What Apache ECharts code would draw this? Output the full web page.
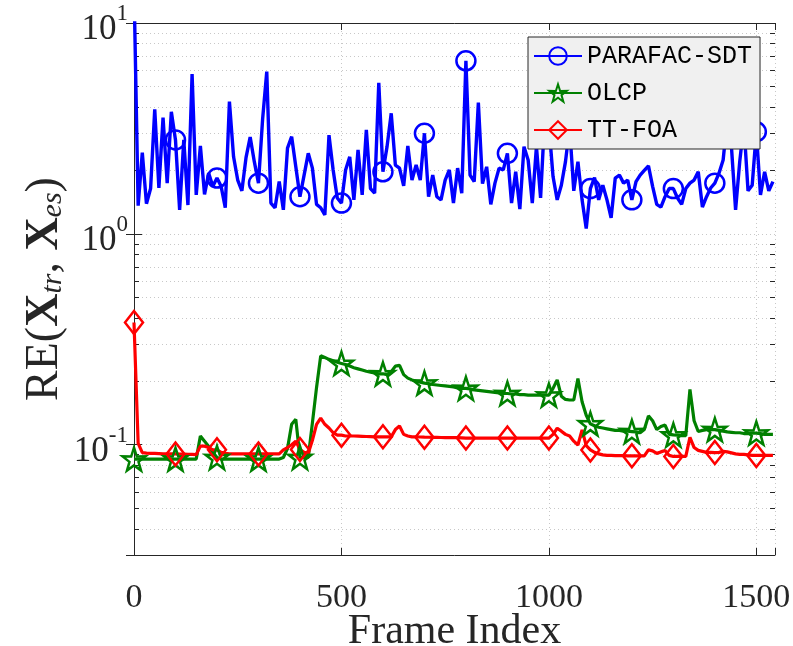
<!DOCTYPE html>
<html><head><meta charset="utf-8">
<script src="https://cdn.jsdelivr.net/npm/echarts@6/dist/echarts.min.js"></script>
<style>html,body{margin:0;padding:0;background:#fff}#c{width:793px;height:646px}</style>
</head><body><div id="c"></div>
<script>
// Frame index of each sample (one sample every 10 frames)
const frames = Array.from({length: 155}, (_, i) => i * 10);

const parafacSDT = [
15,1.36,2.43,1.39,1.64,3.9,1.65,3.56,1.74,3.79,
2.79,1.30,2.79,1.37,5.73,1.53,2.61,1.54,1.94,1.68,
1.84,1.68,1.33,4.24,2.32,1.80,1.60,2.3,2.88,2.2,
1.74,3.5,5.88,1.40,1.33,1.77,1.30,2.55,2.89,2.08,
1.50,1.9,2.41,2.05,1.38,1.33,1.23,2.94,2.01,1.48,
1.40,2.01,2.32,1.45,2.5,1.53,3.11,1.64,1.56,5.21,
1.97,2.6,3.73,2.12,2.05,1.69,2.61,1.80,2.12,1.80,
3.0,1.50,1.90,1.50,1.45,1.80,2.01,1.40,2.05,1.56,
6.62,1.90,1.77,4.19,1.73,2.08,1.38,1.74,2.05,2.01,
2.41,1.40,1.97,1.31,2.59,2.24,1.40,2.59,1.48,3.6,
3.3,1.87,1.45,1.7,2.2,3.2,1.6,2.2,1.45,1.06,
1.64,1.85,1.45,1.7,1.45,1.19,1.84,1.90,1.74,1.80,
1.45,1.77,1.90,2.0,2.1,1.68,1.38,1.34,1.50,1.64,
1.64,1.48,1.38,1.64,1.74,1.8,1.97,1.34,1.5,1.65,
1.74,1.94,2.24,3.5,2.59,1.30,2.2,3.3,1.6,1.7,
3.05,1.53,1.97,1.6,1.77];

const olcp = [
0.0855,0.0855,0.0855,0.0855,0.0855,0.0855,0.0855,0.0855,0.0855,0.0855,
0.0855,0.0855,0.0855,0.0855,0.0855,0.0855,0.110,0.104,0.098,0.092,
0.087,0.0855,0.0855,0.0855,0.0855,0.0855,0.0855,0.0855,0.0855,0.0855,
0.0855,0.0855,0.0855,0.0855,0.0855,0.0855,0.087,0.096,0.125,0.132,
0.087,0.087,0.087,0.127,0.187,0.264,0.259,0.254,0.250,0.246,
0.243,0.240,0.236,0.232,0.229,0.226,0.223,0.221,0.219,0.217,
0.217,0.215,0.222,0.236,0.238,0.215,0.207,0.203,0.200,0.198,
0.196,0.195,0.193,0.192,0.191,0.190,0.189,0.188,0.186,0.185,
0.185,0.184,0.182,0.181,0.180,0.179,0.178,0.177,0.176,0.175,
0.175,0.174,0.174,0.173,0.173,0.172,0.172,0.172,0.172,0.172,
0.172,0.185,0.203,0.170,0.164,0.163,0.163,0.206,0.160,0.138,
0.1256,0.123,0.121,0.120,0.119,0.118,0.117,0.117,0.116,0.116,
0.1155,0.115,0.114,0.118,0.137,0.130,0.118,0.122,0.124,0.112,
0.1113,0.111,0.1105,0.1105,0.183,0.130,0.1155,0.117,0.118,0.118,
0.118,0.117,0.116,0.115,0.1145,0.114,0.114,0.113,0.113,0.1135,
0.1135,0.113,0.112,0.112,0.112];

const ttFOA = [
0.38,0.1016,0.0918,0.0912,0.091,0.091,0.0908,0.0906,0.0905,0.0905,
0.0905,0.0903,0.0902,0.0900,0.0900,0.0898,0.0985,0.0985,0.097,0.0946,
0.0946,0.092,0.091,0.0905,0.0905,0.0905,0.0905,0.0905,0.0905,0.0905,
0.0905,0.0905,0.0905,0.0905,0.0905,0.0905,0.0946,0.097,0.100,0.104,
0.095,0.092,0.091,0.105,0.125,0.1337,0.125,0.120,0.114,0.111,
0.111,0.110,0.110,0.110,0.1098,0.1096,0.1094,0.1092,0.109,0.109,
0.109,0.109,0.109,0.118,0.1227,0.112,0.110,0.109,0.109,0.1088,
0.1086,0.1085,0.1084,0.1083,0.1082,0.1081,0.108,0.108,0.108,0.1078,
0.1076,0.1075,0.1075,0.1075,0.1075,0.1075,0.1075,0.1075,0.1075,0.1075,
0.1075,0.1075,0.1075,0.1075,0.1075,0.1075,0.1075,0.1075,0.1075,0.1075,
0.1075,0.112,0.1197,0.116,0.112,0.110,0.104,0.0997,0.1177,0.099,
0.0945,0.092,0.0905,0.0895,0.089,0.089,0.0888,0.0888,0.0887,0.0886,
0.0886,0.0886,0.0886,0.0886,0.0945,0.0935,0.091,0.0925,0.094,0.089,
0.088,0.088,0.088,0.088,0.1085,0.097,0.094,0.093,0.092,0.092,
0.0918,0.092,0.093,0.0925,0.0915,0.0905,0.090,0.090,0.0895,0.089,
0.089,0.089,0.089,0.089,0.089];

const seriesNames = ['PARAFAC-SDT', 'OLCP', 'TT-FOA'];
const xTickLabels = [0, 500, 1000, 1500];
const minorYTicks = [0.04,0.05,0.06,0.07,0.08,0.09,0.2,0.3,0.4,0.5,0.6,0.7,0.8,0.9,2,3,4,5,6,7,8,9];

const X_MIN = 0, X_MAX = 1545, Y_MIN = 0.03, Y_MAX = 10;
const serif = 'Liberation Serif';
const axisCol = '#262626';
const gridCol = '#c8c8c8';
const starPath = 'path://M50,0 L61.8,35.1 L98.1,34.5 L69,56.2 L79.4,90.5 L50,70 L20.6,90.5 L31,56.2 L1.9,34.5 L38.2,35.1 Z';

function build(vals) {
  return vals.map((v, i) => i % 10 === 0 ? [frames[i], v] : {value: [frames[i], v], symbol: 'none'});
}
function lineSeries(name, vals, color, symbol, size, lw) {
  return {
    name, type: 'line', data: build(vals), showAllSymbol: true,
    symbol, symbolSize: size, clip: true,
    lineStyle: {color, width: lw},
    itemStyle: {color: 'rgba(0,0,0,0)', borderColor: color, borderWidth: 2.5},
    emphasis: {disabled: true}, z: 3
  };
}
const supLabel = v => {
  const e = Math.log10(v);
  if (Math.abs(e - Math.round(e)) > 1e-6) return '';
  return '{b|10}{s|' + Math.round(e) + '}';
};
const yRich = {
  b: {fontFamily: serif, fontSize: 35, color: '#262626', padding: [14, 0, 0, 0]},
  s: {fontFamily: serif, fontSize: 23, color: '#262626', padding: [0, 0, 18, 0]}
};

const chart = echarts.init(document.getElementById('c'), null, {renderer: 'canvas'});
chart.setOption({
  animation: false,
  backgroundColor: '#ffffff',
  grid: {left: 134, top: 23, right: 18, bottom: 91, containLabel: false, outerBoundsMode: 'none', show: false},
  legend: {
    data: seriesNames, orient: 'vertical', left: 528, top: 37, z: 20, zlevel: 0,
    backgroundColor: '#f0f0f0', borderColor: axisCol, borderWidth: 1,
    padding: [6, 8, 6, 5], itemGap: 11, itemWidth: 48, itemHeight: 22,
    textStyle: {fontFamily: 'Liberation Mono', fontSize: 25, color: '#000', lineHeight: 26},
    selectedMode: false
  },
  xAxis: [{
    type: 'value', min: X_MIN, max: X_MAX, interval: 500,
    name: 'Frame Index', nameLocation: 'middle', nameGap: 56, nameMoveOverlap: false,
    nameTextStyle: {fontFamily: serif, fontSize: 42, color: '#262626'},
    axisLine: {show: true, lineStyle: {color: axisCol, width: 1}},
    axisTick: {show: true, inside: true, length: 7, lineStyle: {color: axisCol}},
    axisLabel: {fontFamily: serif, fontSize: 34, color: '#262626', margin: 26,
      formatter: v => xTickLabels.indexOf(v) >= 0 ? String(v) : ''},
    splitLine: {show: true, lineStyle: {color: gridCol, type: [1, 3], width: 1}}
  }, {
    type: 'value', position: 'top', min: X_MIN, max: X_MAX, interval: 500,
    axisLine: {show: true, lineStyle: {color: axisCol, width: 1}},
    axisTick: {show: true, inside: true, length: 7, lineStyle: {color: axisCol}},
    axisLabel: {show: false}, splitLine: {show: false}
  }],
  yAxis: [{
    type: 'log', logBase: 10, min: Y_MIN, max: Y_MAX,
    name: '{n|RE(}{b|X}{s|tr}{n|, }{b|X}{s|es}{n|)}',
    nameLocation: 'middle', nameGap: 66, nameRotate: 90, nameMoveOverlap: false,
    nameTextStyle: {rich: {
      n: {fontFamily: serif, fontSize: 46, color: '#262626'},
      b: {fontFamily: serif, fontSize: 46, fontWeight: 'bold', color: '#262626'},
      s: {fontFamily: serif, fontSize: 30, fontStyle: 'italic', color: '#262626', padding: [16, 0, 0, 0]}
    }},
    axisLine: {show: true, lineStyle: {color: axisCol, width: 1}},
    axisTick: {show: true, inside: true, length: 8, lineStyle: {color: axisCol}},
    axisLabel: {formatter: supLabel, rich: yRich, margin: 6, showMinLabel: false},
    splitLine: {show: true, lineStyle: {color: gridCol, type: [1, 3], width: 1}}
  }, {
    type: 'log', logBase: 10, min: Y_MIN, max: Y_MAX, position: 'right',
    axisLine: {show: true, lineStyle: {color: axisCol, width: 1}},
    axisTick: {show: true, inside: true, length: 8, lineStyle: {color: axisCol}},
    axisLabel: {show: false}, splitLine: {show: false}
  }],
  series: [
    {
      type: 'custom', silent: true, z: 1, clip: false,
      data: minorYTicks.map(v => [X_MIN, v]),
      encode: {x: 0, y: 1},
      renderItem: (params, api) => {
        const cs = params.coordSys;
        const y = Math.round(api.coord([X_MIN, api.value(1)])[1]) + 0.5;
        return {type: 'group', children: [
          {type: 'line', shape: {x1: cs.x, y1: y, x2: cs.x + cs.width, y2: y},
            style: {stroke: gridCol, lineWidth: 1, lineDash: [1, 3]}},
          {type: 'line', shape: {x1: cs.x, y1: y, x2: cs.x + 5, y2: y},
            style: {stroke: axisCol, lineWidth: 1}},
          {type: 'line', shape: {x1: cs.x + cs.width - 5, y1: y, x2: cs.x + cs.width, y2: y},
            style: {stroke: axisCol, lineWidth: 1}}
        ]};
      }
    },
    lineSeries(seriesNames[0], parafacSDT, '#0000ff', 'circle', 19, 3.4),
    lineSeries(seriesNames[1], olcp, '#008000', starPath, 23, 3.2),
    lineSeries(seriesNames[2], ttFOA, '#ff0000', 'diamond', [18, 23], 3.2)
  ]
});
</script>
</body></html>
